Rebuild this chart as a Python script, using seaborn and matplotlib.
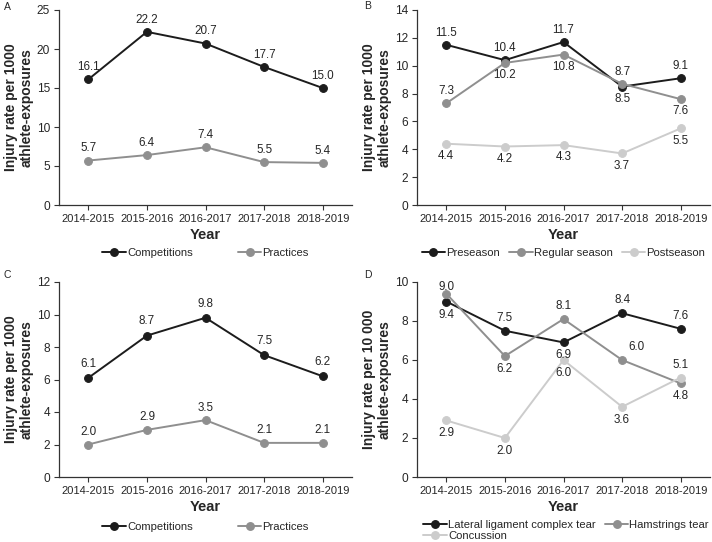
import matplotlib
matplotlib.use("Agg")
import matplotlib.pyplot as plt
import seaborn as sns
import pandas as pd
from matplotlib.lines import Line2D

years = ["2014-2015", "2015-2016", "2016-2017", "2017-2018", "2018-2019"]

# Panel A
a_competitions = [16.1, 22.2, 20.7, 17.7, 15.0]
a_practices = [5.7, 6.4, 7.4, 5.5, 5.4]
# Panel B
b_preseason = [11.5, 10.4, 11.7, 8.5, 9.1]
b_regular = [7.3, 10.2, 10.8, 8.7, 7.6]
b_postseason = [4.4, 4.2, 4.3, 3.7, 5.5]
# Panel C
c_competitions = [6.1, 8.7, 9.8, 7.5, 6.2]
c_practices = [2.0, 2.9, 3.5, 2.1, 2.1]
# Panel D
d_lateral = [9.0, 7.5, 6.9, 8.4, 7.6]
d_hamstrings = [9.4, 6.2, 8.1, 6.0, 4.8]
d_concussion = [2.9, 2.0, 6.0, 3.6, 5.1]

BLACK = "#1c1c1c"
GRAY = "#8f8f8f"
LIGHT = "#cccccc"
TXT = "#262626"
FS = 8.4
LFS = 8.1

sns.set_style("white")
plt.rcParams["font.family"] = ["Liberation Sans", "DejaVu Sans"]

W, H = 712, 542
fig = plt.figure(figsize=(W / 100, H / 100), dpi=100)


def add_ax(l, r, t, b):
    return fig.add_axes([l / W, 1 - b / H, (r - l) / W, (b - t) / H])


def series(ax, vals, color, label):
    df = pd.DataFrame({"Year": years, "v": vals})
    sns.lineplot(data=df, x="Year", y="v", color=color, marker="o", markersize=5.6,
                 markeredgecolor=color, linewidth=1.4, ax=ax, label=label, legend=False)


def put(ax, x, y, v, va):
    ax.text(x, y, f"{v:.1f}", ha="center", va=va, fontsize=FS, color=TXT)


def labels(ax, vals, pos, dy):
    for i, (v, p) in enumerate(zip(vals, pos)):
        if p == "a":
            put(ax, i, v + dy, v, "bottom")
        elif p == "ar":
            put(ax, i + 0.25, v + dy, v, "bottom")
        else:
            put(ax, i, v - dy, v, "top")


def style(ax, ymax, step, ylabel, letter, lx, ly):
    ax.set_xlim(-0.5, 4.5)
    ax.set_ylim(0, ymax)
    ax.set_yticks(range(0, ymax + 1, step))
    ax.set_xticks(range(5))
    ax.set_xticklabels(years)
    for s in ["top", "right"]:
        ax.spines[s].set_visible(False)
    for s in ["left", "bottom"]:
        ax.spines[s].set_color("#333333")
        ax.spines[s].set_linewidth(0.9)
    ax.tick_params(axis="both", direction="out", length=3.5, width=0.8, color="#333333",
                   labelsize=8.0, labelcolor=TXT, left=True, bottom=True, pad=3)
    ax.tick_params(axis="y", labelsize=8.6)
    ax.set_xlabel("Year", fontsize=10.5, fontweight="bold", labelpad=3)
    ax.set_ylabel(ylabel, fontsize=10, fontweight="bold", labelpad=2, linespacing=1.15)
    fig.text(lx / W, 1 - ly / H, letter, fontsize=7.5, ha="left", va="center", color=TXT)


def legend(ax, items, ncol, x, y, colsp):
    handles = [Line2D([0], [0], color=c, marker="o", markersize=5.4, lw=1.4) for c, _ in items]
    ax.legend(handles, [t for _, t in items], loc="upper center", bbox_to_anchor=(x, y),
              ncol=ncol, frameon=False, fontsize=LFS, handlelength=2.1, handletextpad=0.1,
              columnspacing=colsp, borderaxespad=0, labelspacing=0.05, borderpad=0)


YL1000 = "Injury rate per 1000\nathlete-exposures"
YL10000 = "Injury rate per 10 000\nathlete-exposures"

# A
axA = add_ax(59, 352, 10, 205)
series(axA, a_competitions, BLACK, "Competitions")
series(axA, a_practices, GRAY, "Practices")
labels(axA, a_competitions, ["a"] * 5, 0.8)
labels(axA, a_practices, ["a"] * 5, 0.8)
style(axA, 25, 5, YL1000, "A", 4, 7)
legend(axA, [(BLACK, "Competitions"), (GRAY, "Practices")], 2, 0.5, -0.22, 4.0)

# B
axB = add_ax(417, 710, 10, 205)
series(axB, b_preseason, BLACK, "Preseason")
series(axB, b_regular, GRAY, "Regular season")
series(axB, b_postseason, LIGHT, "Postseason")
labels(axB, b_preseason, ["a", "a", "a", "b", "a"], 0.45)
labels(axB, b_regular, ["a", "b", "b", "a", "b"], 0.45)
labels(axB, b_postseason, ["b"] * 5, 0.45)
style(axB, 14, 2, YL1000, "B", 364, 6)
legend(axB, [(BLACK, "Preseason"), (GRAY, "Regular season"), (LIGHT, "Postseason")], 3, 0.5, -0.22, 0.8)

# C
axC = add_ax(59, 352, 282, 477)
series(axC, c_competitions, BLACK, "Competitions")
series(axC, c_practices, GRAY, "Practices")
labels(axC, c_competitions, ["a"] * 5, 0.5)
labels(axC, c_practices, ["a"] * 5, 0.4)
style(axC, 12, 2, YL1000, "C", 4, 275)
legend(axC, [(BLACK, "Competitions"), (GRAY, "Practices")], 2, 0.5, -0.232, 4.0)

# D
axD = add_ax(417, 710, 282, 477)
series(axD, d_lateral, BLACK, "Lateral ligament complex tear")
series(axD, d_hamstrings, GRAY, "Hamstrings tear")
series(axD, d_concussion, LIGHT, "Concussion")
# label placement as in reference
put(axD, 0, 9.45, d_lateral[0], "bottom")
for i, p in zip(range(1, 5), ["a", "b", "a", "a"]):
    put(axD, i, d_lateral[i] + (0.35 if p == "a" else -0.35), d_lateral[i], "bottom" if p == "a" else "top")
put(axD, 0, 8.6, d_hamstrings[0], "top")
for i, p in zip(range(1, 5), ["b", "a", "ar", "b"]):
    if p == "ar":
        put(axD, i + 0.25, d_hamstrings[i] + 0.35, d_hamstrings[i], "bottom")
    else:
        put(axD, i, d_hamstrings[i] + (0.35 if p == "a" else -0.35), d_hamstrings[i],
            "bottom" if p == "a" else "top")
labels(axD, d_concussion, ["b", "b", "b", "b", "a"], 0.35)
style(axD, 10, 2, YL10000, "D", 364, 275)
legend(axD, [(BLACK, "Lateral ligament complex tear"), (LIGHT, "Concussion"), (GRAY, "Hamstrings tear")],
       2, 0.509, -0.222, 0.8)

fig.savefig("out.png", dpi=100)
